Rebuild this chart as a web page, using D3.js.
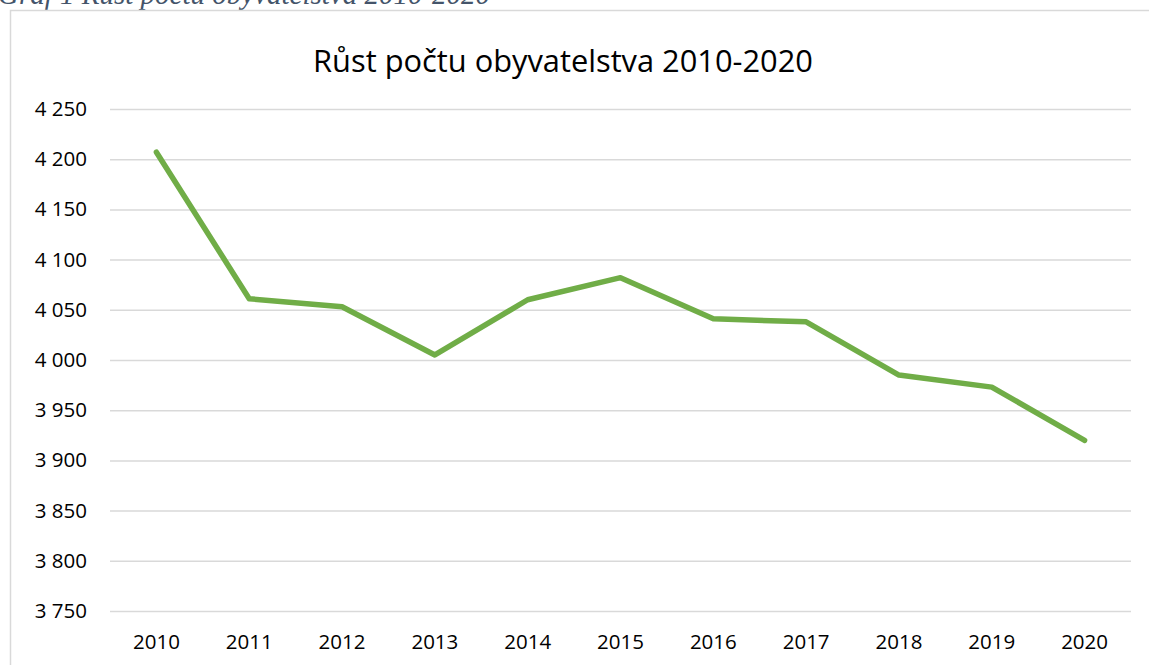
<!DOCTYPE html>
<html>
<head>
<meta charset="utf-8">
<script src="https://cdn.jsdelivr.net/npm/d3@7"></script>
<style>
  body { margin: 0; background: #fff; }
  svg { display: block; }
</style>
</head>
<body>
<svg id="chart" width="1149" height="665"></svg>
<script>
// population per year
var years = ['2010', '2011', '2012', '2013', '2014', '2015', '2016', '2017', '2018', '2019', '2020'];
var population = [4207, 4061, 4053, 4005, 4060, 4082, 4041, 4038, 3985, 3973, 3920];
var yTicks = [3750, 3800, 3850, 3900, 3950, 4000, 4050, 4100, 4150, 4200, 4250];

var svg = d3.select('#chart');
var width = 1149, height = 665;
var margin = {left: 110, right: 18, top: 109, bottom: 54};

// caption above the chart frame (cut off at the top in the source)
svg.append('text')
  .attr('x', -2).attr('y', 4)
  .attr('font-family', 'Liberation Serif, serif')
  .attr('font-style', 'italic')
  .attr('font-size', 29)
  .attr('fill', '#44546a')
  .text('Graf 1 Růst počtu obyvatelstva 2010-2020');

// chart frame
svg.append('rect')
  .attr('x', 10.5).attr('y', 10.5)
  .attr('width', width + 20).attr('height', height + 20)
  .attr('fill', 'none')
  .attr('stroke', '#d9d9d9')
  .attr('stroke-width', 1.5);

svg.append('text')
  .attr('x', 563).attr('y', 72)
  .attr('text-anchor', 'middle')
  .attr('font-family', 'Open Sans, sans-serif')
  .attr('font-size', 30.8)
  .attr('fill', '#000')
  .text('Růst počtu obyvatelstva 2010-2020');

var x = d3.scaleBand().domain(years).range([margin.left, width - margin.right]);
var y = d3.scaleLinear().domain([3750, 4250]).range([height - margin.bottom, margin.top]);

var fmt = function(d) { return d3.format(',')(d).replace(',', ' '); };

// gridlines + y labels
var yAxis = svg.append('g')
  .call(d3.axisLeft(y).tickValues(yTicks).tickFormat(fmt).tickSize(-(width - margin.right - margin.left)).tickPadding(23))
  .attr('transform', 'translate(' + margin.left + ',0)');
yAxis.select('.domain').remove();
yAxis.selectAll('line').attr('stroke', '#d9d9d9').attr('stroke-width', 1.5);
yAxis.selectAll('text')
  .attr('font-family', 'Open Sans, sans-serif')
  .attr('font-size', 20.5)
  .attr('fill', '#000');

var xAxis = svg.append('g')
  .attr('transform', 'translate(0,' + (height - margin.bottom) + ')')
  .call(d3.axisBottom(x).tickSize(0).tickPadding(23));
xAxis.select('.domain').remove();
xAxis.selectAll('text')
  .attr('font-family', 'Open Sans, sans-serif')
  .attr('font-size', 20.5)
  .attr('fill', '#000');

var line = d3.line()
  .x(function(d, i) { return x(years[i]) + x.bandwidth() / 2; })
  .y(function(d) { return y(d); });

svg.append('path')
  .datum(population)
  .attr('d', line)
  .attr('fill', 'none')
  .attr('stroke', '#70ad47')
  .attr('stroke-width', 5.5)
  .attr('stroke-linecap', 'round')
  .attr('stroke-linejoin', 'round');
</script>
</body>
</html>
